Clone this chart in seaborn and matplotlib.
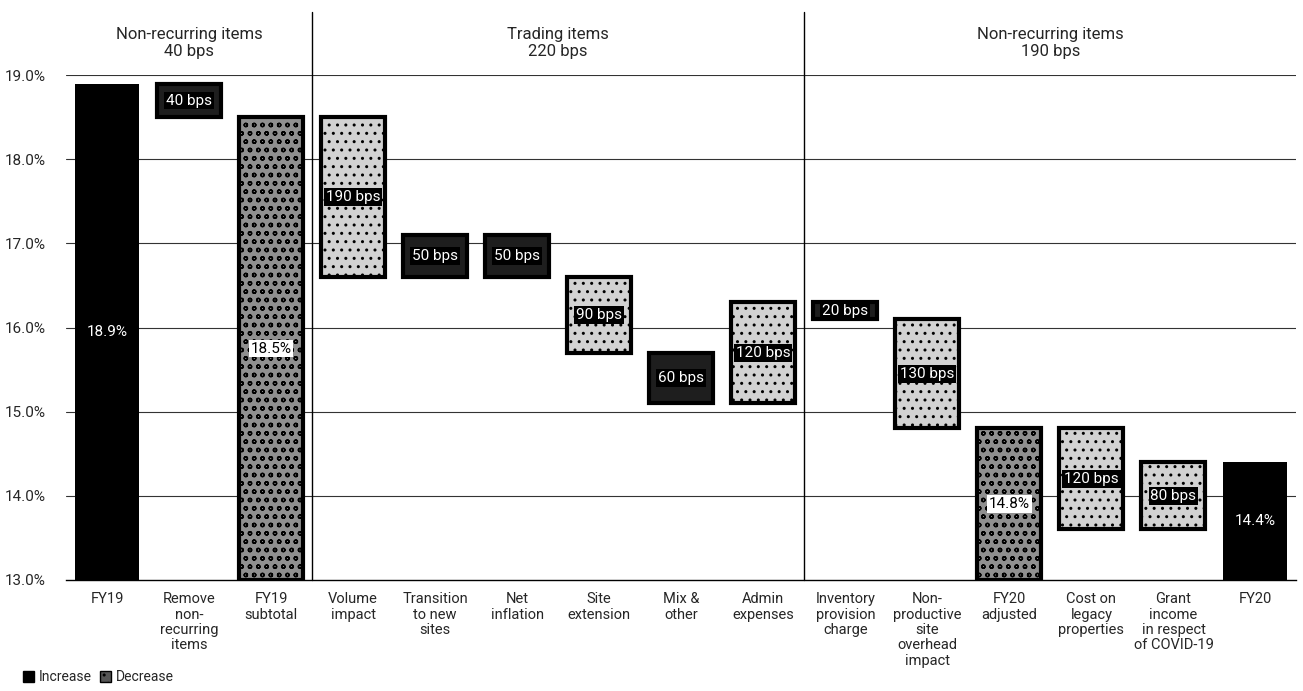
import numpy as np
import pandas as pd
import matplotlib
matplotlib.use("Agg")
import matplotlib.pyplot as plt
import matplotlib.transforms as mtransforms
from matplotlib.patches import Patch
import seaborn as sns

# ---------------- data ----------------
categories = ["FY19", "Remove\nnon-\nrecurring\nitems", "FY19\nsubtotal", "Volume\nimpact",
              "Transition\nto new\nsites", "Net\ninflation", "Site\nextension", "Mix &\nother",
              "Admin\nexpenses", "Inventory\nprovision\ncharge",
              "Non-\nproductive\nsite\noverhead\nimpact", "FY20\nadjusted",
              "Cost on\nlegacy\nproperties", "Grant\nincome\nin respect\nof COVID-19", "FY20"]
# kind: total (start/end value), delta (bps change), sub (running subtotal)
bar_kind = ["total", "delta", "sub", "delta", "delta", "delta", "delta", "delta",
            "delta", "delta", "delta", "sub", "delta", "delta", "total"]
start_margin = 18.9   # %
delta_bps = [0, -40, 0, -190, 50, -50, -90, -60, 120, -20, -130, 0, -120, 80, 0]
bar_labels = ["18.9%", "40 bps", "18.5%", "190 bps", "50 bps", "50 bps", "90 bps", "60 bps",
              "120 bps", "20 bps", "130 bps", "14.8%", "120 bps", "80 bps", "14.4%"]
group_titles = ["Non-recurring items\n40 bps", "Trading items\n220 bps", "Non-recurring items\n190 bps"]
group_spans = [(0, 2), (3, 8), (9, 14)]
y_ticks = [13, 14, 15, 16, 17, 18, 19]
y_tick_labels = ["13.0%", "14.0%", "15.0%", "16.0%", "17.0%", "18.0%", "19.0%"]
base = 13.0

# ---------------- waterfall geometry from data ----------------
bottoms, heights = [], []
level = start_margin
for k, d in zip(bar_kind, delta_bps):
    if k in ("total", "sub"):
        bottoms.append(base)
        heights.append(level - base)
    else:
        new = level + d / 100.0
        bottoms.append(min(level, new))
        heights.append(abs(new - level))
        level = new

df = pd.DataFrame({"category": categories, "height": heights})

sns.set_theme(style="white")
plt.rcParams["font.family"] = ["Roboto", "DejaVu Sans"]

fig = plt.figure(figsize=(13.03, 6.91), dpi=100)
ax = fig.add_axes([0.0507, 0.161, 0.9443, 0.730])

sns.barplot(data=df, x="category", y="height", bottom=bottoms, width=0.78,
            color="white", ax=ax, zorder=3)

for p, k, d in zip(ax.patches, bar_kind, delta_bps):
    if k == "total":
        p.set_facecolor("black"); p.set_edgecolor("black"); p.set_linewidth(0)
    elif k == "sub":
        p.set_facecolor("#8f8f8f"); p.set_edgecolor("black"); p.set_linewidth(3)
        p.set_hatch("oo")
    else:
        if abs(d) <= 60:
            p.set_facecolor("#1e1e1e")
        else:
            p.set_facecolor("#d2d2d2")
            p.set_hatch("..")
        p.set_edgecolor("black"); p.set_linewidth(3)

# labels
for i, (k, lab) in enumerate(zip(bar_kind, bar_labels)):
    y = bottoms[i] + heights[i] / 2
    if k == "total":
        ax.text(i, y, lab, ha="center", va="center", color="white", fontsize=11, zorder=5)
    elif k == "sub":
        ax.text(i, y, lab, ha="center", va="center", color="black", fontsize=11, zorder=5,
                bbox=dict(boxstyle="square,pad=0.12", fc="white", ec="none"))
    else:
        ax.text(i, y, lab, ha="center", va="center", color="white", fontsize=11, zorder=5,
                bbox=dict(boxstyle="square,pad=0.12", fc="black", ec="none"))

ax.set_xlim(-0.5, len(categories) - 0.5)
ax.set_ylim(13.0, 19.0)
ax.set_yticks(y_ticks)
ax.set_yticklabels(y_tick_labels, fontsize=11, ha="left")
ax.tick_params(axis="y", length=0, pad=44)
ax.set_xticks(range(len(categories)))
ax.set_xticklabels(categories, fontsize=10.5, linespacing=1.12)
ax.set_xticks(np.arange(-0.5, len(categories), 1.0), minor=True)
ax.tick_params(axis="x", which="major", length=0, pad=9)
ax.tick_params(axis="x", which="minor", length=5, width=1, color="black", direction="out")
ax.set_xlabel(""); ax.set_ylabel("")

for t in y_ticks[1:]:
    ax.axhline(t, color="#333333", lw=0.8, zorder=1)

for s in ["top", "right", "left"]:
    ax.spines[s].set_visible(False)
ax.spines["bottom"].set_color("black")
ax.spines["bottom"].set_linewidth(1.0)

# group separators and titles
trans = mtransforms.blended_transform_factory(ax.transData, ax.transAxes)
for a, b in group_spans[1:]:
    ax.plot([a - 0.5, a - 0.5], [0, 1.125], transform=trans, color="black", lw=1.0,
            clip_on=False, zorder=2)
for (a, b), title in zip(group_spans, group_titles):
    ax.text((a + b) / 2, 1.064, title, transform=trans, ha="center", va="center",
            fontsize=12, linespacing=1.2)

legend_handles = [Patch(facecolor="black", edgecolor="black", label="Increase"),
                  Patch(facecolor="#555555", edgecolor="black", hatch="..", label="Decrease")]
fig.legend(handles=legend_handles, loc="lower left", bbox_to_anchor=(0.008, -0.008), ncol=2,
           frameon=False, handlelength=0.8, handleheight=0.8, columnspacing=0.6,
           handletextpad=0.35, fontsize=10)

fig.savefig("out.png", dpi=100)
